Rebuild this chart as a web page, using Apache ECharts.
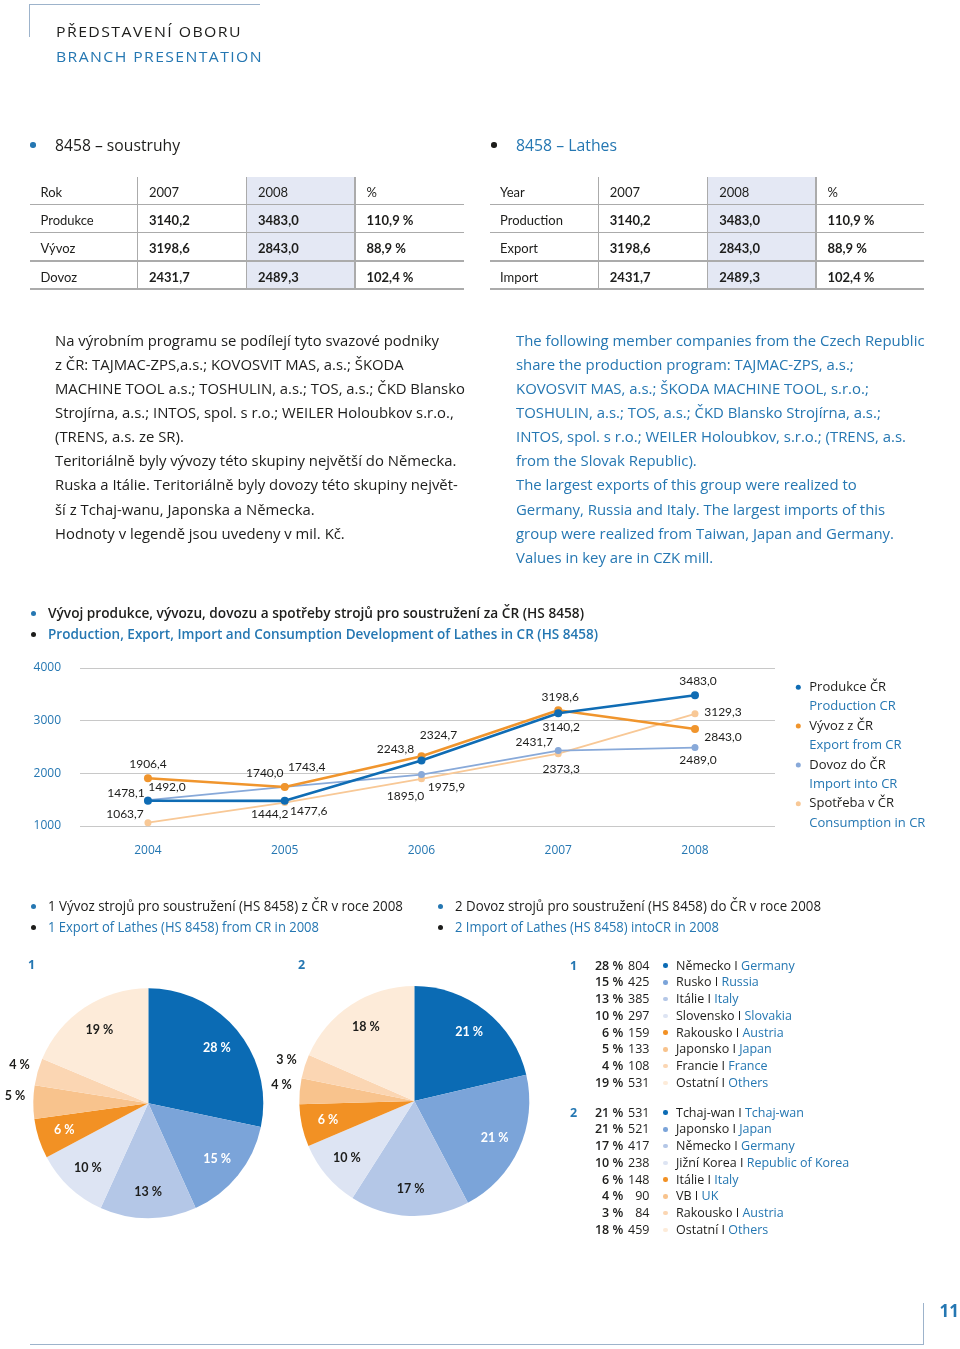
<!DOCTYPE html>
<html><head><meta charset="utf-8">
<script src="https://cdn.jsdelivr.net/npm/echarts@6/dist/echarts.min.js"></script>
<style>
html,body{margin:0;padding:0;background:#fff;}
#page{position:relative;width:960px;height:1349px;overflow:hidden;background:#fff;}
#chart{position:absolute;left:0;top:0;width:960px;height:1349px;z-index:0;}
.t{position:absolute;white-space:nowrap;z-index:2;font-family:"Open Sans","Noto Sans",sans-serif;color:#1d1d1b;transform-origin:0 50%;}
.b{position:absolute;z-index:1;}
.dot{position:absolute;border-radius:50%;z-index:2;}
</style></head>
<body><div id="page"><div id="chart"></div></div>
<script>
// ---------------- DATA ----------------
const years = ['2004', '2005', '2006', '2007', '2008'];
const production = [1478.1, 1477.6, 2243.8, 3140.2, 3483.0];
const exportsCR = [1906.4, 1740.0, 2324.7, 3198.6, 2843.0];
const importsCR = [1492.0, 1743.4, 1975.9, 2431.7, 2489.0];
const consumption = [1063.7, 1444.2, 1895.0, 2373.3, 3129.3];
const yTicks = [1000, 2000, 3000, 4000];
const seriesNamesCZ = ['Produkce ČR', 'Vývoz z ČR', 'Dovoz do ČR', 'Spotřeba v ČR'];
const seriesNamesEN = ['Production CR', 'Export from CR', 'Import into CR', 'Consumption in CR'];

const exportCountriesCZ = ['Německo', 'Rusko', 'Itálie', 'Slovensko', 'Rakousko', 'Japonsko', 'Francie', 'Ostatní'];
const exportCountriesEN = ['Germany', 'Russia', 'Italy', 'Slovakia', 'Austria', 'Japan', 'France', 'Others'];
const exportValues = [804, 425, 385, 297, 159, 133, 108, 531];
const exportShares = [28, 15, 13, 10, 6, 5, 4, 19];

const importCountriesCZ = ['Tchaj-wan', 'Japonsko', 'Německo', 'Jižní Korea', 'Itálie', 'VB', 'Rakousko', 'Ostatní'];
const importCountriesEN = ['Tchaj-wan', 'Japan', 'Germany', 'Republic of Korea', 'Italy', 'UK', 'Austria', 'Others'];
const importValues = [531, 521, 417, 238, 148, 90, 84, 459];
const importShares = [21, 21, 17, 10, 6, 4, 3, 18];

const tableHeadCZ = ['Rok', '2007', '2008', '%'];
const tableHeadEN = ['Year', '2007', '2008', '%'];
const tableRowsCZ = ['Produkce', 'Vývoz', 'Dovoz'];
const tableRowsEN = ['Production', 'Export', 'Import'];
const table2007 = [3140.2, 3198.6, 2431.7];
const table2008 = [3483.0, 2843.0, 2489.3];
const tableIndex = [110.9, 88.9, 102.4];

// ---------------- STYLE ----------------
const BLUE = '#2577b2';
const DARK = '#1d1d1b';
const lineColors = ['#0f6cb4', '#f0952d', '#88a9d9', '#f8c896'];
const pieColors = ['#0b6bb4', '#7ba4d9', '#b4c7e7', '#dde4f3', '#f29124', '#f8c38d', '#fbd6b3', '#fdebd9'];
const pieTextColors = ['#fff', '#fff', DARK, DARK, '#fff', DARK, DARK, DARK];
const pie1Place = ['in', 'in', 'in', 'in', 'in', 'out', 'out', 'in'];
const pie2Place = ['in', 'in', 'in', 'in', 'in', 'out', 'out', 'in'];
const labelOffsets = [
  [[-22, -8], [24, 10], [-26, -11], [3, 14], [3, -14]],   // production
  [[0, -14], [-20, -14], [17, -21], [2, -13], [28, 8]],   // export
  [[19, -13], [22, -20], [25, 13], [-24, -8], [3, 13]],   // import
  [[-23, -9], [-15, 12], [-16, 17], [3, 15], [28, -2]]    // consumption
];

const fmt = v => v.toFixed(1).replace('.', ',');
const page = document.getElementById('page');

function T(txt, x, cy, size, o = {}) {
  const d = document.createElement('div');
  d.className = 't';
  const lh = o.lh || Math.round(size * 1.4);
  d.style.fontSize = size + 'px';
  d.style.lineHeight = lh + 'px';
  d.style.top = (cy - lh / 2) + 'px';
  d.style.left = x + 'px';
  if (o.color) d.style.color = o.color;
  if (o.weight) d.style.fontWeight = o.weight;
  if (o.family) d.style.fontFamily = o.family;
  if (o.ls) d.style.letterSpacing = o.ls + 'px';
  if (o.html) d.innerHTML = txt; else d.textContent = txt;
  page.appendChild(d);
  const w0 = d.getBoundingClientRect().width;
  if (o.right) d.style.left = (x - w0) + 'px';
  if (o.center) d.style.left = (x - w0 / 2) + 'px';
  if (o.w) d.style.transform = 'scaleX(' + (o.w / w0) + ')';
  if (o.scale) d.style.transform = 'scaleX(' + o.scale + ')';
  d._w0 = w0;
  return d;
}
function D(x, cy, color, s = 5) {
  const d = document.createElement('div');
  d.className = 'dot';
  d.style.left = (x - s / 2) + 'px'; d.style.top = (cy - s / 2) + 'px';
  d.style.width = s + 'px'; d.style.height = s + 'px'; d.style.background = color;
  page.appendChild(d);
}
function B(x, y, w, h, color) {
  const d = document.createElement('div');
  d.className = 'b';
  d.style.left = x + 'px'; d.style.top = y + 'px'; d.style.width = w + 'px'; d.style.height = h + 'px';
  d.style.background = color;
  page.appendChild(d);
}
function block(lines, x, cy0, step, size, color, targets) {
  const els = lines.map((l, i) => T(l, x, cy0 + i * step, size, { color }));
  const ratios = els.map((e, i) => targets[i] / e._w0).sort((a, b) => a - b);
  const s = ratios[Math.floor(ratios.length / 2)];
  els.forEach(e => e.style.transform = 'scaleX(' + s + ')');
}

// ---------------- HEADER ----------------
const FRAME = '#9db3cb';
B(29, 4, 1, 33, FRAME);
B(29, 4, 231, 1, FRAME);
T('PŘEDSTAVENÍ OBORU', 56, 31.7, 14.5, { ls: 1.3, w: 186 });
T('BRANCH PRESENTATION', 56, 56.7, 14.5, { ls: 1.3, w: 207, color: BLUE });

D(33, 145, BLUE, 5.5);
T('8458 – soustruhy', 55, 145, 17, { w: 125 });
D(494, 145, DARK, 5.5);
T('8458 – Lathes', 516, 145, 17, { w: 101, color: BLUE });

// ---------------- TABLES ----------------
function drawTable(edges, head, rows) {
  const top = 177, bottom = 289, lines = [204.3, 232.7, 261, 289];
  B(edges[2], top, edges[3] - edges[2], bottom - top, '#e4e8f4');
  [1, 2, 3].forEach(k => B(edges[k] - 0.75, top, 1.5, bottom - top, '#ababab'));
  lines.forEach(y => B(edges[0], y - 0.75, edges[4] - edges[0], 1.5, '#ababab'));
  const cys = [191.7, 220, 248.3, 276.7];
  const fam = 'Lato, "Open Sans", sans-serif';
  head.forEach((h, k) => T(h, edges[k] + (k ? 11.5 : 10.5), cys[0], 13, { family: fam }));
  rows.forEach((r, i) => {
    const cy = cys[i + 1];
    T(r, edges[0] + 10.5, cy, 13, { family: fam });
    T(fmt(table2007[i]), edges[1] + 11.5, cy, 13, { family: fam, weight: 700 });
    T(fmt(table2008[i]), edges[2] + 11.5, cy, 13, { family: fam, weight: 700 });
    T(fmt(tableIndex[i]) + ' %', edges[3] + 11.5, cy, 13, { family: fam, weight: 700 });
  });
}
drawTable([30, 137.5, 246.5, 355, 463.5], tableHeadCZ, tableRowsCZ);
drawTable([489.5, 598.3, 707.7, 816, 924], tableHeadEN, tableRowsEN);

// ---------------- PARAGRAPHS ----------------
block([
  'Na výrobním programu se podílejí tyto svazové podniky',
  'z ČR: TAJMAC-ZPS,a.s.; KOVOSVIT MAS, a.s.; ŠKODA',
  'MACHINE TOOL a.s.; TOSHULIN, a.s.; TOS, a.s.; ČKD Blansko',
  'Strojírna, a.s.; INTOS, spol. s r.o.; WEILER Holoubkov s.r.o.,',
  '(TRENS, a.s. ze SR).',
  'Teritoriálně byly vývozy této skupiny největší do Německa.',
  'Ruska a Itálie. Teritoriálně byly dovozy této skupiny největ-',
  'ší z Tchaj-wanu, Japonska a Německa.',
  'Hodnoty v legendě jsou uvedeny v mil. Kč.'
], 55, 340, 24.15, 15, DARK, [384, 355, 407, 393, 129, 401, 406, 259, 292]);
block([
  'The following member companies from the Czech Republic',
  'share the production program: TAJMAC-ZPS, a.s.;',
  'KOVOSVIT MAS, a.s.; ŠKODA MACHINE TOOL, s.r.o.;',
  'TOSHULIN, a.s.; TOS, a.s.; ČKD Blansko Strojírna, a.s.;',
  'INTOS, spol. s r.o.; WEILER Holoubkov, s.r.o.; (TRENS, a.s.',
  'from the Slovak Republic).',
  'The largest exports of this group were realized to',
  'Germany, Russia and Italy. The largest imports of this',
  'group were realized from Taiwan, Japan and Germany.',
  'Values in key are in CZK mill.'
], 516, 340, 24.15, 15, BLUE, [407, 336, 354, 359, 383, 181, 342, 363, 378, 199]);

// ---------------- CHART TITLES ----------------
D(33, 613, BLUE, 5);
T('Vývoj produkce, vývozu, dovozu a spotřeby strojů pro soustružení za ČR (HS 8458)', 48, 613, 13.5, { weight: 600, w: 536 });
D(33, 634, DARK, 5);
T('Production, Export, Import and Consumption Development of Lathes in CR (HS 8458)', 48, 634, 13.5, { weight: 600, w: 550, color: BLUE });

D(33, 906, BLUE, 5);
T('1 Vývoz strojů pro soustružení (HS 8458) z ČR v roce 2008', 48, 906, 14, { weight: 500, w: 355 });
D(33, 927, DARK, 5);
T('1 Export of Lathes (HS 8458) from CR in 2008', 48, 927, 14, { weight: 500, w: 271, color: BLUE });
D(440, 906, BLUE, 5);
T('2 Dovoz strojů pro soustružení (HS 8458) do ČR v roce 2008', 455, 906, 14, { weight: 500, w: 366 });
D(440, 927, DARK, 5);
T('2 Import of Lathes (HS 8458) intoCR in 2008', 455, 927, 14, { weight: 500, w: 264, color: BLUE });

T('1', 31.7, 965, 12.5, { center: true, color: BLUE, weight: 700 });
T('2', 301.5, 965, 12.5, { center: true, color: BLUE, weight: 700 });

// ---------------- PIE KEY LISTS ----------------
function pieList(num, cz, en, shares, vals, y0) {
  T(num, 573.5, y0, 12.5, { center: true, color: BLUE, weight: 700 });
  cz.forEach((c, i) => {
    const cy = y0 + i * 16.75;
    T(shares[i] + ' %', 623.3, cy, 12.5, { right: true, weight: 600 });
    T(String(vals[i]), 649.5, cy, 12.5, { right: true });
    D(665.3, cy, pieColors[i], 4.5);
    T(c + ' I <span style="color:' + BLUE + '">' + en[i] + '</span>', 676, cy, 12.5, { html: true });
  });
}
pieList('1', exportCountriesCZ, exportCountriesEN, exportShares, exportValues, 965.5);
pieList('2', importCountriesCZ, importCountriesEN, importShares, importValues, 1112.5);

// ---------------- FOOTER ----------------
B(923, 1303, 1, 42, FRAME);
B(30, 1344, 894, 1, FRAME);
T('11', 939.5, 1311, 17, { weight: 700, color: BLUE });

// ---------------- ECHARTS ----------------
const chart = echarts.init(document.getElementById('chart'), null, { renderer: 'canvas', width: 960, height: 1349 });
const lineData = [production, exportsCR, importsCR, consumption];
const drawOrder = [3, 2, 1, 0];
const lineSeries = drawOrder.map(k => ({
  type: 'line',
  name: seriesNamesCZ[k],
  xAxisIndex: 0, yAxisIndex: 0,
  symbol: 'circle',
  symbolSize: k < 2 ? 8 : 7,
  itemStyle: { color: lineColors[k] },
  lineStyle: { color: lineColors[k], width: k < 2 ? 2.6 : 1.9 },
  label: {
    show: true, position: 'inside', color: DARK, fontSize: 12, fontFamily: 'Lato, sans-serif',
    formatter: p => fmt(p.value[1])
  },
  z: 3 + (3 - k),
  data: lineData[k].map((v, i) => ({ value: [Number(years[i]), v], label: { offset: labelOffsets[k][i] } }))
}));

function pieSeries(values, shares, names, center, place) {
  return {
    type: 'pie', center: center, radius: [0, 115], startAngle: 90, clockwise: true,
    silent: true, avoidLabelOverlap: false,
    data: values.map((v, i) => ({
      value: v, name: names[i],
      itemStyle: { color: pieColors[i] },
      label: { position: place[i] === 'out' ? 'outside' : 'inside', color: place[i] === 'out' ? DARK : pieTextColors[i] }
    })),
    itemStyle: { borderWidth: 0 },
    label: {
      show: true, fontFamily: 'Lato, sans-serif', fontWeight: 'bold', fontSize: 12.5,
      formatter: p => shares[p.dataIndex] + ' %'
    },
    labelLine: { show: false, length: 3, length2: 0 },
    emphasis: { disabled: true },
    labelLayout: p => {
      const r = p.labelRect;
      const lx = r.x + r.width / 2, ly = r.y + r.height / 2;
      if (place[p.dataIndex] === 'out') return { y: ly - 6 };
      return { x: center[0] + 1.46 * (lx - center[0]), y: center[1] + 1.46 * (ly - center[1]) };
    }
  };
}

const legendFont = '"Open Sans", sans-serif';
chart.setOption({
  animation: false,
  backgroundColor: 'transparent',
  grid: { left: 80, top: 668, width: 695, height: 158, containLabel: false, outerBoundsMode: 'none' },
  xAxis: {
    type: 'value', min: 2003.503, max: 2008.585,
    axisLine: { show: false }, axisTick: { show: false }, splitLine: { show: false },
    axisLabel: {
      color: BLUE, fontSize: 12, fontFamily: legendFont, margin: 19,
      showMinLabel: false, showMaxLabel: false,
      formatter: v => (Math.abs(v - Math.round(v)) < 1e-6 && years.includes(String(Math.round(v)))) ? String(Math.round(v)) : ''
    }
  },
  yAxis: {
    type: 'value', min: yTicks[0], max: yTicks[yTicks.length - 1], interval: 1000,
    axisLine: { show: false }, axisTick: { show: false },
    splitLine: { lineStyle: { color: '#c8c8c8', width: 1.2 } },
    axisLabel: { color: BLUE, fontSize: 12, fontFamily: legendFont, margin: 19, formatter: v => String(v) }
  },
  legend: [
    {
      data: seriesNamesCZ, orient: 'vertical', left: 795.8, top: 677.6, padding: 0,
      itemGap: 19.4, itemWidth: 12, itemHeight: 5, icon: 'circle', selectedMode: false,
      textStyle: { fontSize: 13, lineHeight: 19.4, height: 19.4, color: DARK, fontFamily: legendFont }
    },
    {
      data: seriesNamesCZ, orient: 'vertical', left: 795.8, top: 697, padding: 0,
      itemGap: 19.4, itemWidth: 12, itemHeight: 5, icon: 'circle', selectedMode: false,
      itemStyle: { opacity: 0 },
      formatter: n => seriesNamesEN[seriesNamesCZ.indexOf(n)],
      textStyle: { fontSize: 13, lineHeight: 19.4, height: 19.4, color: BLUE, fontFamily: legendFont }
    }
  ],
  series: lineSeries.concat([
    pieSeries(exportValues, exportShares, exportCountriesCZ, [148.3, 1103.3], pie1Place),
    pieSeries(importValues, importShares, importCountriesCZ, [414.3, 1101], pie2Place)
  ])
});
</script>
</body></html>
